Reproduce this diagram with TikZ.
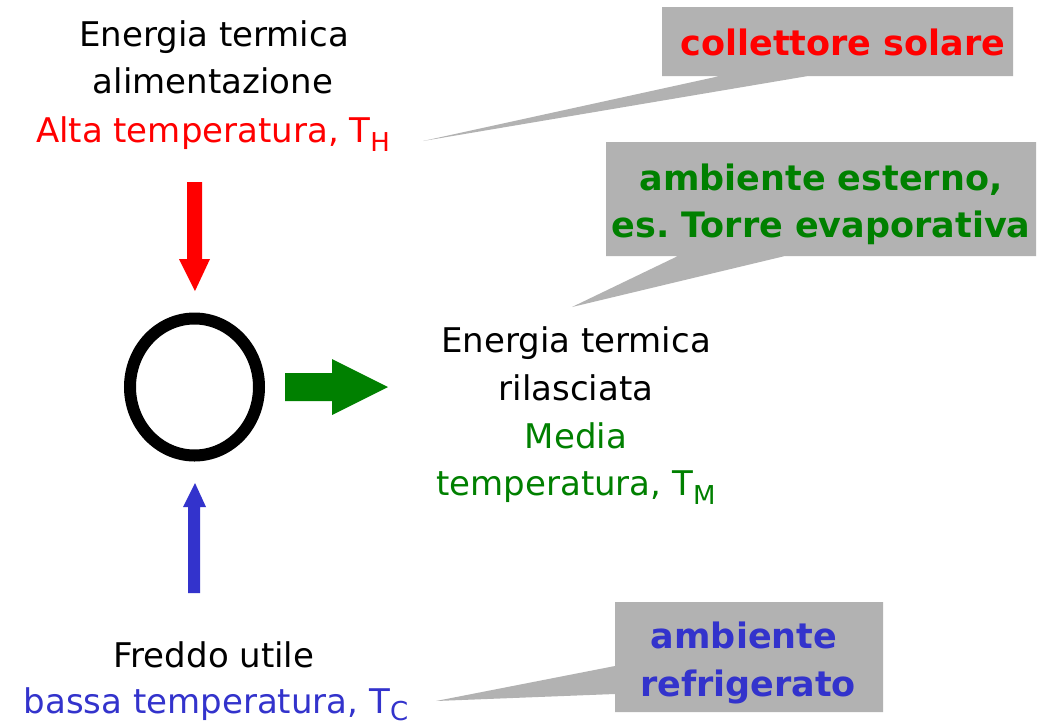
\documentclass[tikz,border=0pt]{standalone}
\usepackage{fontspec}
\setmainfont{DejaVu Sans}
\frenchspacing
\definecolor{myred}{RGB}{255,0,0}
\definecolor{mygreen}{RGB}{0,128,0}
\definecolor{myblue}{RGB}{51,51,204}
\definecolor{callgray}{RGB}{178,178,178}
\newcommand\mysub[2][9pt]{\raisebox{-#1}{\fontsize{26}{26}\selectfont #2}}
\begin{document}
\begin{tikzpicture}[x=1pt,y=-1pt,
  txt/.style={font=\fontsize{34}{40}\selectfont, anchor=base, inner sep=0pt},
  btxt/.style={font=\fontsize{35}{40}\selectfont\bfseries, anchor=base, inner sep=0pt}]
\useasboundingbox[fill=white] (0,0) rectangle (1037,726);
% callouts
\fill[callgray] (662,7) -- (1013,7) -- (1013,76) -- (808,76) -- (423,141) -- (720,76) -- (662,76) -- cycle;
\fill[callgray] (606,142) -- (1036,142) -- (1036,256) -- (785,256) -- (572,307) -- (678,256) -- (606,256) -- cycle;
\fill[callgray] (615,602) -- (883,602) -- (883,712) -- (615,712) -- (615,694) -- (436,701) -- (615,666) -- cycle;
% arrows
\fill[myred] (187,182) -- (202,182) -- (202,259) -- (210,259) -- (195,291) -- (179,259) -- (187,259) -- cycle;
\fill[myblue] (188,593) -- (200,593) -- (200,507) -- (206,507) -- (195,483) -- (183,507) -- (188,507) -- cycle;
\fill[mygreen] (285,373) -- (332,373) -- (332,359) -- (388,387) -- (332,415) -- (332,401) -- (285,401) -- cycle;
% machine
\draw[line width=12pt] (194.5,387) ellipse [x radius=64.5, y radius=68.5];
% top texts
\node[txt] (t1) at (214,46) {Energia termica};
\node[txt] (t2) at (213,93) {alimentazione};
\node[txt,text=myred] (t3) at (213,142) {Alta temperatura, T\mysub{H}};
% middle texts
\node[txt] (m1) at (576,352) {Energia termica};
\node[txt] (m2) at (576,400) {rilasciata};
\node[txt,text=mygreen] (m3) at (576,448) {Media};
\node[txt,text=mygreen] (m4) at (576,495) {temperatura, T\mysub{M}};
% bottom texts
\node[txt] (b1) at (214,667) {Freddo utile};
\node[txt,text=myblue] (b2) at (216,713) {bassa temperatura, T\mysub[7pt]{C}};
% callout texts
\node[btxt,text=myred] (c1) at (843,55) {collettore solare};
\node[btxt,text=mygreen] (c2) at (821,190) {ambiente esterno,};
\node[btxt,text=mygreen] (c3) at (821,237) {es. Torre evaporativa};
\node[btxt,text=myblue] (c4) at (744,648) {ambiente};
\node[btxt,text=myblue] (c5) at (748,696) {refrigerato};
\end{tikzpicture}
\end{document}
